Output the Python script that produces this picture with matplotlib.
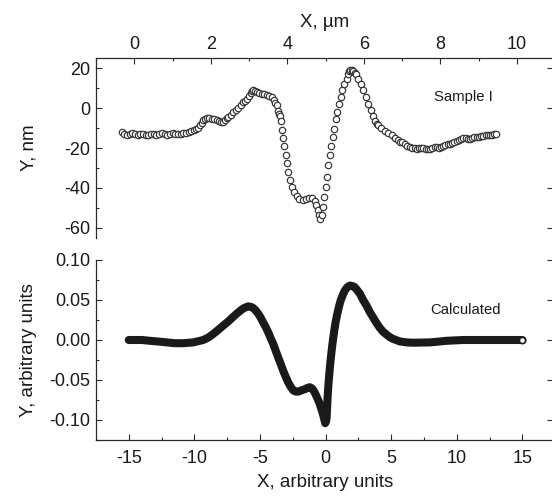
import numpy as np
import matplotlib
matplotlib.use("Agg")
import matplotlib.pyplot as plt
from matplotlib.ticker import MultipleLocator

plt.rcParams['font.family'] = ['Liberation Sans', 'DejaVu Sans']
plt.rcParams['axes.unicode_minus'] = False

# measured profile (Sample I): x in um, y in nm
x_sample = [-0.33, -0.26, -0.19, -0.12, -0.05, 0.02, 0.09, 0.16, 0.23, 0.30,
            0.37, 0.44, 0.51, 0.58, 0.65, 0.72, 0.79, 0.86, 0.93, 1.00,
            1.07, 1.14, 1.21, 1.28, 1.35, 1.42, 1.49, 1.55, 1.61, 1.67,
            1.72, 1.76, 1.80, 1.85, 1.89, 1.95, 2.02, 2.08, 2.15, 2.21,
            2.26, 2.31, 2.36, 2.41, 2.46, 2.52, 2.59, 2.65, 2.72, 2.78,
            2.83, 2.89, 2.94, 2.99, 3.04, 3.08, 3.11, 3.16, 3.20, 3.26,
            3.33, 3.40, 3.46, 3.53, 3.59, 3.65, 3.69, 3.72, 3.76, 3.79,
            3.81, 3.83, 3.86, 3.89, 3.92, 3.96, 4.00, 4.03, 4.08, 4.13,
            4.18, 4.24, 4.31, 4.40, 4.49, 4.57, 4.65, 4.72, 4.76, 4.81,
            4.83, 4.85, 4.90, 4.92, 4.96, 5.00, 5.03, 5.07, 5.11, 5.14,
            5.18, 5.22, 5.26, 5.30, 5.35, 5.39, 5.43, 5.49, 5.55, 5.59,
            5.62, 5.65, 5.69, 5.72, 5.76, 5.79, 5.85, 5.92, 5.98, 6.05,
            6.11, 6.18, 6.23, 6.29, 6.34, 6.38, 6.46, 6.55, 6.64, 6.73,
            6.81, 6.88, 6.94, 7.00, 7.07, 7.13, 7.20, 7.27, 7.33, 7.38,
            7.44, 7.50, 7.55, 7.61, 7.67, 7.73, 7.79, 7.85, 7.90, 7.96,
            8.02, 8.07, 8.13, 8.19, 8.25, 8.30, 8.36, 8.42, 8.48, 8.54,
            8.60, 8.66, 8.72, 8.77, 8.83, 8.89, 8.95, 9.01, 9.06, 9.12,
            9.18, 9.24, 9.29, 9.35, 9.40, 9.45]
y_sample = [-11.9, -12.8, -13.3, -12.9, -12.6, -13.0, -13.4, -13.1, -12.9, -13.3,
            -13.5, -13.2, -13.0, -13.4, -13.1, -12.7, -12.9, -13.3, -13.0, -12.6,
            -12.9, -13.2, -12.8, -12.3, -12.5, -12.0, -11.6, -11.2, -10.6, -9.8,
            -8.7, -7.4, -6.2, -5.4, -5.0, -5.1, -5.3, -5.5, -5.9, -6.5,
            -7.0, -6.8, -6.0, -5.2, -4.5, -3.4, -2.0, -1.0, 0.2, 1.5,
            3.0, 3.8, 4.7, 6.0, 7.5, 8.6, 9.2, 8.4, 8.0, 7.7,
            7.2, 6.9, 6.7, 6.2, 5.5, 3.9, 2.6, 1.4, -1.2, -3.0,
            -3.7, -6.5, -10.9, -15.0, -19.2, -23.4, -27.6, -32.1, -36.3, -39.6,
            -42.2, -44.3, -45.5, -46.3, -45.8, -45.0, -45.2, -46.7, -48.8, -51.3,
            -53.5, -55.5, -53.5, -49.7, -44.7, -39.6, -34.3, -28.4, -23.4, -19.1,
            -14.6, -10.3, -5.7, -1.7, 2.2, 5.5, 8.9, 11.9, 14.8, 17.3,
            18.4, 18.9, 19.0, 18.6, 17.8, 16.9, 14.8, 12.2, 8.9, 5.5,
            2.2, -0.8, -3.7, -6.7, -7.8, -8.7, -10.0, -11.5, -12.5, -13.7,
            -14.9, -16.2, -16.8, -17.2, -17.9, -18.8, -19.6, -19.9, -20.2, -20.4,
            -20.1, -19.8, -19.9, -20.3, -20.5, -20.4, -20.0, -19.6, -19.6, -19.8,
            -19.4, -19.2, -18.7, -18.2, -17.9, -17.4, -16.9, -16.5, -16.0, -15.3,
            -14.9, -15.2, -15.5, -15.4, -15.0, -14.7, -14.6, -14.4, -14.1, -13.9,
            -13.7, -13.5, -13.4, -13.3, -13.1, -13.2]

# calculated profile: arbitrary units
x_calc = [-15.0, -14.0, -13.4, -12.7, -12.1, -11.5, -10.85, -10.1, -9.7, -9.33,
          -8.95, -8.57, -8.2, -7.8, -7.4, -7.04, -6.7, -6.4, -6.15, -5.9,
          -5.7, -5.52, -5.33, -5.14, -4.95, -4.76, -4.56, -4.37, -4.18, -3.99,
          -3.80, -3.61, -3.42, -3.23, -3.04, -2.85, -2.66, -2.47, -2.28, -2.09,
          -1.85, -1.58, -1.40, -1.20, -1.00, -0.82, -0.65, -0.49, -0.35, -0.23,
          -0.12, -0.03, 0.03, 0.08, 0.15, 0.21, 0.28, 0.37, 0.46, 0.56,
          0.66, 0.77, 0.89, 1.01, 1.14, 1.30, 1.47, 1.65, 1.85, 2.04,
          2.23, 2.42, 2.61, 2.86, 3.12, 3.37, 3.63, 3.89, 4.14, 4.40,
          4.65, 4.90, 5.15, 5.66, 6.17, 6.68, 7.3, 7.95, 8.6, 9.22,
          9.85, 10.49, 11.5, 12.5, 13.5, 14.3, 15.0]
y_calc = [0.000, 0.000, -0.001, -0.002, -0.003, -0.004, -0.004, -0.003, -0.0015, 0.000,
          0.003, 0.0075, 0.0125, 0.018, 0.0235, 0.029, 0.034, 0.038, 0.0405, 0.042,
          0.0415, 0.040, 0.037, 0.033, 0.028, 0.022, 0.016, 0.0095, 0.002, -0.005,
          -0.0135, -0.022, -0.030, -0.0385, -0.046, -0.053, -0.0585, -0.063, -0.0645, -0.0645,
          -0.063, -0.0615, -0.060, -0.059, -0.061, -0.066, -0.072, -0.078, -0.085, -0.091,
          -0.098, -0.104, -0.102, -0.097, -0.072, -0.057, -0.0427, -0.027, -0.0134, 0.000,
          0.0117, 0.023, 0.0326, 0.041, 0.049, 0.056, 0.062, 0.066, 0.068, 0.0675,
          0.066, 0.062, 0.058, 0.050, 0.043, 0.035, 0.028, 0.021, 0.015, 0.010,
          0.0067, 0.0035, 0.0013, -0.0018, -0.003, -0.0034, -0.0032, -0.003, -0.002, -0.001,
          -0.0005, 0.0, 0.0, 0.0, 0.0, 0.0, 0.0]

W, H = 552, 496
fig = plt.figure(figsize=(W / 100, H / 100), dpi=100)
left, right = 96, 553.5
ax1 = fig.add_axes([left / W, 1 - 237.7 / H, (right - left) / W, (237.7 - 58.3) / H])
ax2 = fig.add_axes([left / W, 1 - 440 / H, (right - left) / W, (440 - 260) / H])

ink = '#2a2a2a'
for ax in (ax1, ax2):
    for s in ax.spines.values():
        s.set_color(ink)
        s.set_linewidth(0.9)
    ax.spines['right'].set_visible(False)
    ax.tick_params(which='both', direction='in', colors=ink, labelcolor='#1a1a1a',
                   labelsize=13, width=0.8, pad=4)
    ax.tick_params(which='major', length=4)
    ax.tick_params(which='minor', length=2.5)

# top panel: measured
ax1.plot(x_sample, y_sample, 'o', ms=4.6, mfc='white', mec='#333333', mew=0.85)
ax1.spines['bottom'].set_visible(False)
ax1.set_xlim(-1, -1 + (right - left) / 38.27)
ax1.set_ylim(-65, 25)
ax1.xaxis.set_major_locator(MultipleLocator(2))
ax1.xaxis.set_minor_locator(MultipleLocator(1))
ax1.yaxis.set_major_locator(MultipleLocator(20))
ax1.yaxis.set_minor_locator(MultipleLocator(10))
ax1.tick_params(axis='x', which='both', top=True, bottom=False, labeltop=True, labelbottom=False)
ax1.tick_params(axis='y', which='major', left=True, right=True)
ax1.tick_params(axis='y', which='minor', left=True, right=False)
ax1.xaxis.set_label_position('top')
ax1.set_xlabel('X, µm', fontsize=13.5, color='#1a1a1a', labelpad=6)
ax1.set_ylabel('Y, nm', fontsize=13.5, color='#1a1a1a')
ax1.yaxis.set_label_coords(-0.128, 0.5)
ax1.text(8.6, 5.5, 'Sample I', ha='center', va='center', fontsize=10.75, color='#1a1a1a')

# bottom panel: calculated
ax2.plot(x_calc, y_calc, '-', color='#1a1a1a', lw=5.8, solid_joinstyle='round',
         solid_capstyle='round')
ax2.plot(x_calc[-1:], y_calc[-1:], 'o', ms=4.5, mfc='white', mec='#1a1a1a', mew=1.2)
ax2.spines['top'].set_visible(False)
ax2.set_xlim(-17.5, -17.5 + (right - left) / 13.12)
ax2.set_ylim(-0.125, 0.10)
ax2.xaxis.set_major_locator(MultipleLocator(5))
ax2.xaxis.set_minor_locator(MultipleLocator(2.5))
ax2.yaxis.set_major_locator(MultipleLocator(0.05))
ax2.yaxis.set_minor_locator(MultipleLocator(0.025))
ax2.yaxis.set_major_formatter(plt.FormatStrFormatter('%.2f'))
ax2.tick_params(axis='x', which='both', top=False, bottom=True, pad=7)
ax2.tick_params(axis='y', which='major', left=True, right=True)
ax2.tick_params(axis='y', which='minor', left=True, right=False)
ax2.set_xlabel('X, arbitrary units', fontsize=13.5, color='#1a1a1a', labelpad=5)
ax2.set_ylabel('Y, arbitrary units', fontsize=13.5, color='#1a1a1a')
ax2.yaxis.set_label_coords(-0.128, 0.5)
ax2.text(10.69, 0.038, 'Calculated', ha='center', va='center', fontsize=10.75, color='#1a1a1a')

fig.savefig('out.png', dpi=100)
